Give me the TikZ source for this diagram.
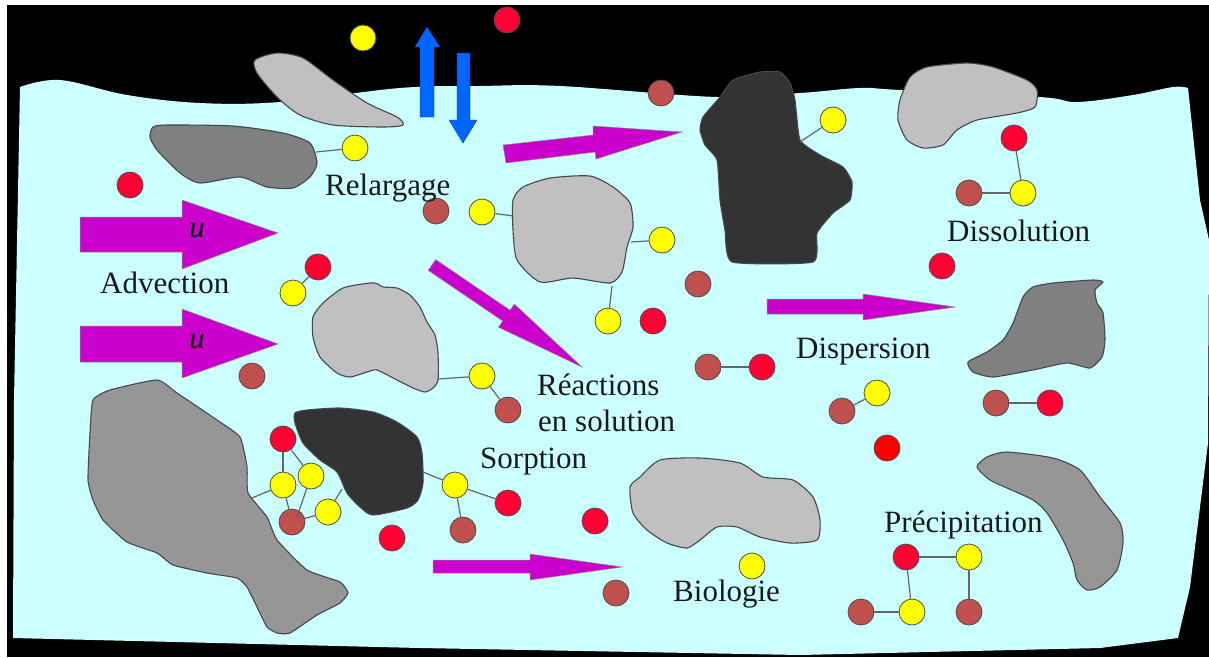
\documentclass[tikz,border=0pt]{standalone}
\usepackage{fontspec}
\setmainfont{Liberation Serif}
\newfontfamily\labelfont{Liberation Serif}
\definecolor{water}{HTML}{CCFFFF}
\definecolor{silver}{HTML}{C0C0C0}
\definecolor{midgray}{HTML}{808080}
\definecolor{stone}{HTML}{969696}
\definecolor{coal}{HTML}{333333}
\definecolor{mag}{HTML}{CC00CC}
\definecolor{sky}{HTML}{0066FF}
\definecolor{yel}{HTML}{FFFF00}
\definecolor{rd}{HTML}{FF0033}
\definecolor{purered}{HTML}{FF0000}
\definecolor{brn}{HTML}{C0504D}
\begin{document}
\begin{tikzpicture}[x=1pt,y=-1pt,
  rock/.style={draw=black!72, line width=1.1pt, line join=round},
  particle/.style={circle, draw=black!70, line width=0.8pt, minimum size=26pt, inner sep=0pt},
  yatom/.style={particle, fill=yel},
  ratom/.style={particle, fill=rd},
  batom/.style={particle, fill=brn},
  bond/.style={draw=black!60, line width=1.2pt},
  flow/.style={fill=mag, draw=black!45, line width=0.5pt, line join=miter},
  vflux/.style={fill=sky, draw=sky!70!black, line width=0.4pt},
  word/.style={anchor=base west, inner sep=0pt, text=black!90, font=\labelfont\fontsize{31}{36}\selectfont},
  speed/.style={inner sep=0pt, font=\labelfont\itshape\fontsize{31}{36}\selectfont}
]
\useasboundingbox (0,0) rectangle (1209,657);
% frame: white margin, black ground
\fill[white] (0,0) rectangle (1209,657);
\fill[black] (7,5) rectangle (1209,657);

% water body
\fill[water] plot[smooth, tension=0.6] coordinates {(20,87) (60,80) (127,95) (200,103) (280,102) (400,88) (480,86) (560,86) (717,97) (800,93) (860,88) (900,90) (1040,97) (1077,102) (1133,95) (1173,87) (1188,88)}
  -- (1200,200) -- (1209,240) -- (1208,443) -- (1190,587) -- (1178,638) -- (1100,648) -- (800,655) -- (420,648) -- (13,638) -- (14,400) -- cycle;

% grains
\draw[rock, fill=silver] plot[smooth cycle, tension=0.45] coordinates {(257,73) (255,60) (277,53) (303,58) (333,80) (367,103) (397,117) (403,125) (383,127) (333,125) (300,115) (277,97)};
\draw[rock, fill=midgray] plot[smooth cycle, tension=0.4] coordinates {(150,137) (153,127) (167,125) (233,126) (283,133) (310,143) (317,163) (310,177) (293,188) (267,187) (240,177) (200,183) (180,173) (157,150)};
\draw[rock, fill=silver] plot[smooth cycle, tension=0.4] coordinates {(513,200) (523,187) (550,178) (590,176) (613,187) (630,203) (633,227) (627,247) (622,272) (610,283) (573,278) (540,282) (517,260) (513,230)};
\draw[rock, fill=coal] plot[smooth cycle, tension=0.3] coordinates {(703,117) (720,97) (733,80) (760,72) (780,72) (790,83) (795,100) (800,140) (820,155) (843,167) (852,182) (850,200) (833,213) (817,233) (813,262) (732,262) (725,230) (720,200) (717,160) (705,145) (700,130)};
\draw[rock, fill=silver] plot[smooth cycle, tension=0.4] coordinates {(898,120) (900,100) (910,77) (927,67) (967,63) (993,67) (1027,80) (1037,90) (1035,107) (1017,113) (977,120) (957,130) (943,145) (923,148) (907,140)};
\draw[rock, fill=midgray] plot[smooth cycle, tension=0.35] coordinates {(968,362) (987,352) (1003,340) (1013,323) (1023,297) (1033,287) (1053,283) (1093,280) (1103,282) (1095,290) (1097,303) (1103,313) (1105,340) (1102,357) (1090,368) (1067,363) (1033,370) (993,377) (973,372)};
\draw[rock, fill=silver] plot[smooth cycle, tension=0.4] coordinates {(313,317) (323,303) (343,288) (370,283) (378,284) (383,287) (397,288) (410,295) (420,307) (427,322) (435,335) (438,353) (438,380) (433,388) (425,392) (413,388) (397,380) (377,370) (367,372) (350,377) (337,373) (320,357) (313,337)};
\draw[rock, fill=stone] plot[smooth cycle, tension=0.3] coordinates {(93,400) (110,390) (157,380) (177,393) (217,420) (240,437) (247,467) (248,493) (267,517) (277,540) (307,570) (340,582) (348,593) (340,603) (317,615) (290,633) (277,633) (267,627) (257,607) (247,587) (237,578) (207,573) (173,565) (157,553) (127,542) (103,520) (93,500) (88,480) (90,433)};
\draw[rock, fill=coal] plot[smooth cycle, tension=0.4] coordinates {(295,413) (307,410) (340,408) (373,412) (397,422) (417,437) (422,453) (423,483) (418,500) (407,508) (373,515) (360,507) (347,493) (337,472) (320,460) (303,443) (295,423)};
\draw[rock, fill=silver] plot[smooth cycle, tension=0.4] coordinates {(630,487) (640,477) (660,460) (700,458) (740,463) (763,477) (793,480) (813,497) (820,520) (817,540) (790,543) (760,537) (737,527) (717,527) (700,540) (687,548) (667,543) (647,530) (633,513)};
\draw[rock, fill=stone] plot[smooth cycle, tension=0.4] coordinates {(977,467) (987,457) (1007,452) (1053,458) (1080,470) (1100,497) (1120,523) (1123,543) (1117,570) (1100,587) (1087,590) (1077,580) (1073,563) (1063,540) (1047,513) (1033,500) (1007,488) (990,480)};

% attachment points on grain surfaces
\coordinate (g1) at (316,152);
\coordinate (g2) at (514,216);
\coordinate (g3) at (631,242);
\coordinate (g4) at (612,286);
\coordinate (g5) at (800,142);
\coordinate (g6) at (438,379);
\coordinate (g7) at (252,498);
\coordinate (g8) at (342,489);
\coordinate (g9) at (423,472);

% transport arrows
\fill[vflux] (420,117) -- (420,47) -- (415,47) -- (427,27) -- (440,47) -- (434,47) -- (434,117) -- cycle;
\fill[vflux] (457,53) -- (470,53) -- (470,120) -- (477,120) -- (463,143) -- (449,120) -- (457,120) -- cycle;
\filldraw[flow] (503,145) -- (593,135) -- (593,126) -- (682,132) -- (596,159) -- (595,152) -- (506,163) -- cycle;
\filldraw[flow] (80,217) -- (182,217) -- (182,200) -- (278,233) -- (182,269) -- (182,252) -- (80,252) -- cycle;
\filldraw[flow] (80,326) -- (182,326) -- (182,309) -- (278,344) -- (182,378) -- (182,362) -- (80,362) -- cycle;
\filldraw[flow] (435.7,259.6) -- (510.1,310.2) -- (514.3,304.0) -- (582,367) -- (498.5,327.2) -- (502.7,321.0) -- (428.3,270.4) -- cycle;
\filldraw[flow] (767,299) -- (863,299) -- (863,294) -- (955,307) -- (863,320) -- (863,314) -- (767,314) -- cycle;
\filldraw[flow] (433,560) -- (530,560) -- (530,554) -- (622,567) -- (530,580) -- (530,573) -- (433,573) -- cycle;
\node[speed] (u1) at (197,231) {u};
\node[speed] (u2) at (197,342) {u};

% species
\node[yatom] (y1) at (363,38) {};
\node[ratom] (r1) at (507,20) {};
\node[yatom] (y2) at (355,148) {};
\node[ratom] (r2) at (130,185) {};
\node[batom] (b1) at (661,93) {};
\node[yatom] (y3) at (833,120) {};
\node[batom] (b2) at (436,211) {};
\node[yatom] (y4) at (482,212) {};
\node[yatom] (y5) at (662,240) {};
\node[yatom] (y6) at (608,321) {};
\node[ratom] (r3) at (653,321) {};
\node[batom] (b3) at (698,284) {};
\node[ratom] (r4) at (318,267) {};
\node[yatom] (y7) at (293,293) {};
\node[batom] (b4) at (252,376) {};
\node[yatom] (y8) at (482,376) {};
\node[batom] (b5) at (508,410) {};
\node[batom] (b6) at (708,367) {};
\node[ratom] (r5) at (762,367) {};
\node[ratom] (r6) at (942,266) {};
\node[batom] (b7) at (842,411) {};
\node[yatom] (y9) at (877,393) {};
\node[batom] (b8) at (996,403) {};
\node[ratom] (r7) at (1050,403) {};
\node[particle, fill=purered] (r8) at (887,448) {};
\node[ratom] (r9) at (1014,138) {};
\node[yatom] (y10) at (1023,193) {};
\node[batom] (b9) at (969,193) {};
\node[ratom] (r10) at (906,557) {};
\node[yatom] (y11) at (969,557) {};
\node[batom] (b10) at (861,612) {};
\node[yatom] (y12) at (912,612) {};
\node[batom] (b11) at (969,612) {};
\node[ratom] (r11) at (283,439) {};
\node[yatom] (y13) at (283,485) {};
\node[yatom] (y14) at (311,476) {};
\node[batom] (b12) at (292,522) {};
\node[yatom] (y15) at (328,512) {};
\node[yatom] (y16) at (455,485) {};
\node[ratom] (r12) at (508,503) {};
\node[batom] (b13) at (463,530) {};
\node[ratom] (r13) at (392,538) {};
\node[ratom] (r14) at (595,521) {};
\node[batom] (b14) at (616,593) {};
\node[yatom] (y17) at (752,566) {};

% bonds
\draw[bond] (g1) -- (y2);
\draw[bond] (g2) -- (y4);
\draw[bond] (g3) -- (y5);
\draw[bond] (g4) -- (y6);
\draw[bond] (g5) -- (y3);
\draw[bond] (r4) -- (y7);
\draw[bond] (g6) -- (y8);
\draw[bond] (y8) -- (b5);
\draw[bond] (b6) -- (r5);
\draw[bond] (b7) -- (y9);
\draw[bond] (b8) -- (r7);
\draw[bond] (r9) -- (y10);
\draw[bond] (b9) -- (y10);
\draw[bond] (r10) -- (y11);
\draw[bond] (r10) -- (y12);
\draw[bond] (b10) -- (y12);
\draw[bond] (y11) -- (b11);
\draw[bond] (r11) -- (y13);
\draw[bond] (r11) -- (y14);
\draw[bond] (y13) -- (b12);
\draw[bond] (g7) -- (y13);
\coordinate (bj) at (297,517);
\draw[bond] (bj) -- (y14);
\draw[bond] (b12) -- (y15);
\draw[bond] (y15) -- (g8);
\draw[bond] (g9) -- (y16);
\draw[bond] (y16) -- (r12);
\draw[bond] (y16) -- (b13);

% process names
\node[word] (t1) at (325,195) {Relargage};
\node[word] (t2) at (100,293) {Advection};
\node[word] (t3) at (537,395) {Réactions};
\node[word] (t4) at (538,431) {en solution};
\node[word] (t5) at (480,468) {Sorption};
\node[word] (t6) at (673,601) {Biologie};
\node[word] (t7) at (796,358) {Dispersion};
\node[word] (t8) at (947,241) {Dissolution};
\node[word] (t9) at (884,532) {Précipitation};
\end{tikzpicture}
\end{document}
